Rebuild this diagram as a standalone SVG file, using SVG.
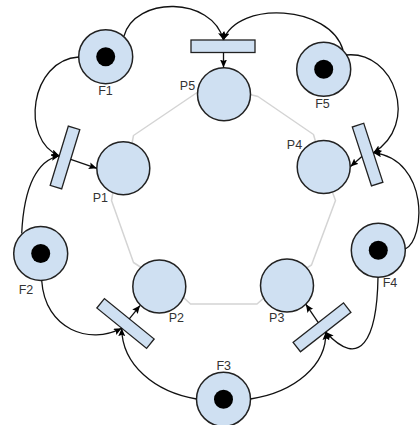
<svg xmlns="http://www.w3.org/2000/svg" width="420" height="425" viewBox="0 0 420 425">
  <style>
    .place { fill: #cfe0f2; stroke: #222; stroke-width: 1.5; }
    .trans { fill: #cfe0f2; stroke: #222; stroke-width: 1.3; }
    .token { fill: #000; }
    .lbl { font-family: "Liberation Sans", Arial, sans-serif; font-size: 12.5px; fill: #333; text-anchor: middle; }
    .ring { fill: none; stroke: #d4d4d4; stroke-width: 1.5; stroke-linejoin: round; }
    .arc { fill: none; stroke: #111; stroke-width: 1.3; marker-end: url(#head); }
  </style>
  <defs>
    <marker id="head" markerUnits="userSpaceOnUse" markerWidth="9" markerHeight="8" refX="8" refY="3.5" orient="auto">
      <path d="M0,0 L8,3.5 L0,7 L1.5,3.5 z" fill="#000"/>
    </marker>
  </defs>

  <rect width="420" height="425" fill="#fff"/>

  <!-- light ring linking the five philosopher places -->
  <g id="ring">
    <path class="ring" d="M198.6,91.5 L133.5,135.5 L131.5,146"/>
    <path class="ring" d="M248,94 L258,96.5 L313.5,134.5 L316.5,145"/>
    <path class="ring" d="M113,192 L111.5,200.5 L133.5,262.5 L142,268"/>
    <path class="ring" d="M183,297 L190.5,304 L257,304 L265,297"/>
    <path class="ring" d="M332,191 L335.5,200.5 L311.5,265 L305,269"/>
  </g>

  <!-- fork places (marked) -->
  <g id="F1">
    <circle class="place" cx="105.7" cy="56.7" r="27"/>
    <circle class="token" cx="105.7" cy="56.7" r="9.5"/>
    <text class="lbl" x="105.5" y="95">F1</text>
  </g>
  <g id="F2">
    <circle class="place" cx="40.7" cy="253.5" r="27"/>
    <circle class="token" cx="40.7" cy="253.5" r="9.5"/>
    <text class="lbl" x="26" y="293.5">F2</text>
  </g>
  <g id="F3">
    <circle class="place" cx="223.5" cy="399.3" r="27"/>
    <circle class="token" cx="223.5" cy="399.3" r="9.5"/>
    <text class="lbl" x="223.7" y="370">F3</text>
  </g>
  <g id="F4">
    <circle class="place" cx="378.3" cy="250.3" r="27"/>
    <circle class="token" cx="378.3" cy="250.3" r="9.5"/>
    <text class="lbl" x="390" y="286.7">F4</text>
  </g>
  <g id="F5">
    <circle class="place" cx="323.7" cy="69.3" r="27"/>
    <circle class="token" cx="323.7" cy="69.3" r="9.5"/>
    <text class="lbl" x="322.5" y="108.3">F5</text>
  </g>

  <!-- philosopher places -->
  <g id="P1">
    <circle class="place" cx="123.3" cy="168.3" r="26.5"/>
    <text class="lbl" x="100.3" y="201.7">P1</text>
  </g>
  <g id="P2">
    <circle class="place" cx="159.3" cy="286.5" r="26.5"/>
    <text class="lbl" x="176.3" y="322.3">P2</text>
  </g>
  <g id="P3">
    <circle class="place" cx="287" cy="285.5" r="26.5"/>
    <text class="lbl" x="276.7" y="321.7">P3</text>
  </g>
  <g id="P4">
    <circle class="place" cx="323.7" cy="167" r="26.5"/>
    <text class="lbl" x="294.5" y="148.7">P4</text>
  </g>
  <g id="P5">
    <circle class="place" cx="224" cy="94.2" r="26.5"/>
    <text class="lbl" x="187.5" y="90">P5</text>
  </g>

  <!-- transitions -->
  <g id="T1"><rect class="trans" x="-6" y="-31" width="12" height="62" transform="translate(65,157.5) rotate(17)"/></g>
  <g id="T2"><rect class="trans" x="-32" y="-6" width="64" height="12" transform="translate(125.5,323.5) rotate(39)"/></g>
  <g id="T3"><rect class="trans" x="-32" y="-6" width="64" height="12" transform="translate(322,327.3) rotate(-38)"/></g>
  <g id="T4"><rect class="trans" x="-6" y="-31" width="12" height="62" transform="translate(367.6,154.6) rotate(-18)"/></g>
  <g id="T5"><rect class="trans" x="191" y="40" width="64" height="12.5"/></g>

  <!-- arcs -->
  <g id="connectors">
    <path class="arc" d="M124,36 C135,-4 212,-4 223.5,40"/>
    <path class="arc" d="M343,50 C330,5 238,0 223.5,40"/>
    <path class="arc" d="M223.5,52.5 L223.5,67.5"/>

    <path class="arc" d="M78.7,57 C30,60 20,140 59.3,155.8"/>
    <path class="arc" d="M21.7,233.5 C24,185 38,160 59.3,155.8"/>
    <path class="arc" d="M70.7,159.3 L96.8,168.3"/>

    <path class="arc" d="M41.7,280.5 C45,330 90,345 121.7,328.2"/>
    <path class="arc" d="M196.5,399 C155,392 122,365 121.7,328.2"/>
    <path class="arc" d="M129.3,318.8 L140,305.6"/>

    <path class="arc" d="M250.5,399 C295,392 327,365 325.7,332"/>
    <path class="arc" d="M378,277.3 C377,340 360,370 325.7,332"/>
    <path class="arc" d="M318.3,322.6 L305.9,304.3"/>

    <path class="arc" d="M405.3,249 C425,240 430,160 373.3,152.7"/>
    <path class="arc" d="M346,55 C395,50 420,125 373.3,152.7"/>
    <path class="arc" d="M361.9,156.5 L350.5,166.5"/>
  </g>
</svg>
